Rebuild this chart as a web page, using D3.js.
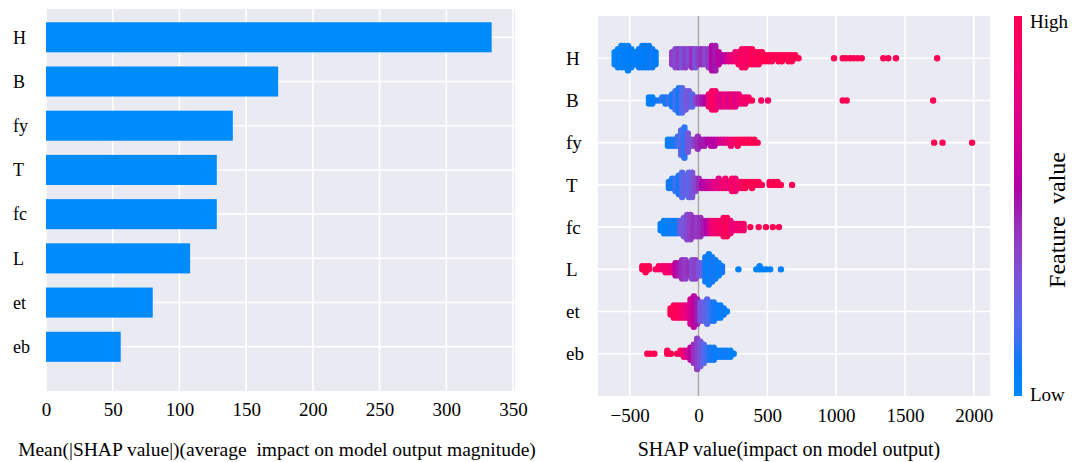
<!DOCTYPE html>
<html>
<head>
<meta charset="utf-8">
<script src="https://cdn.jsdelivr.net/npm/d3@7/dist/d3.min.js"></script>
<style>
  body { margin: 0; background: #fff; }
  svg text { font-family: "Liberation Serif", "DejaVu Serif", serif !important; fill: #000; }
</style>
</head>
<body>
<script>
// features, top to bottom
var features = ["H", "B", "fy", "T", "fc", "L", "et", "eb"];
// mean(|SHAP|) per feature
var meanShap = [334, 174, 140, 128, 128, 108, 80, 56];
var barTicks = [0, 50, 100, 150, 200, 250, 300, 350];
var shapTicks = [-500, 0, 500, 1000, 1500, 2000];

// beeswarm:
// [shap value, dots stacked in that column, feature value 0..1]
var swarmH = [
  [-609,5,0.03],[-585,7,0.05],[-560,8,0.04],[-536,8,0.06],[-512,9,0.05],[-488,7,0.07],
  [-457,5,0.06],[-432,7,0.08],[-408,8,0.07],[-384,8,0.09],[-360,8,0.08],[-336,7,0.1],[-312,5,0.09],
  [-191,5,0.4],[-167,7,0.35],[-143,7,0.42],[-119,7,0.3],[-94,7,0.4],[-70,6,0.33],[-46,7,0.45],
  [-22,7,0.3],[2,6,0.4],[26,6,0.45],[50,6,0.35],[75,7,0.42],[99,9,0.55],[123,9,0.5],[147,5,0.6],
  [171,3,0.55],[195,3,0.62],[220,3,0.75],[244,3,0.8],[268,4,0.85],
  [292,5,0.9],[316,7,0.95],[340,7,0.93],[364,6,0.9],[389,6,1],[413,5,0.95],[437,5,0.97],[461,4,1],[485,3,1],
  [509,3,1],[533,3,0.98],[558,2,1],[582,3,1],[606,3,1],[630,2,1],[654,3,1],[678,3,1],[703,2,1],[727,1,1],
  [985,1,1],[1048,1,1],[1072,1,1],[1100,1,1],[1126,1,1],[1155,1,1],[1186,1,1],
  [1343,1,1],[1379,1,1],[1435,1,1],[1734,1,1]
];
var swarmB = [
  [-360,3,0.05],[-336,3,0.08],[-312,1,0.1],[-288,1,0.1],[-263,2,0.12],[-239,3,0.1],[-215,3,0.15],
  [-191,5,0.1],[-167,7,0.15],[-143,9,0.1],[-119,9,0.2],[-94,7,0.25],[-70,6,0.3],[-46,5,0.2],[-22,3,0.35],
  [2,3,0.45],[26,3,0.5],[50,3,0.55],
  [75,5,0.85],[99,7,0.95],[123,7,0.9],[147,5,0.8],[171,5,0.75],[195,5,0.85],[220,5,0.7],[244,5,0.9],
  [268,5,0.75],[292,4,0.8],[316,3,0.9],[340,3,0.85],[364,2,0.9],[389,1,1],
  [456,1,0.95],[505,1,0.9],[1048,1,1],[1077,1,1],[1705,1,1]
];
var swarmFy = [
  [-222,3,0.05],[-198,3,0.1],[-174,3,0.1],[-150,4,0.15],[-126,9,0.2],[-102,11,0.12],[-77,7,0.3],
  [-53,3,0.3],[-29,3,0.4],[-5,5,0.45],[19,3,0.5],[43,3,0.5],[68,2,0.55],[92,3,0.6],[116,3,0.55],
  [140,2,0.65],[164,2,0.7],[188,2,0.75],[212,2,0.8],[236,3,0.85],[261,2,0.9],[285,3,0.95],[309,2,1],
  [333,2,0.95],[357,2,1],[381,2,1],[406,2,1],[430,1,1],
  [1712,1,1],[1773,1,1],[1988,1,1]
];
var swarmT = [
  [-215,3,0.1],[-191,4,0.1],[-167,5,0.15],[-143,7,0.1],[-119,9,0.2],[-94,7,0.25],[-70,9,0.2],
  [-46,9,0.3],[-22,5,0.35],[2,4,0.45],[26,3,0.55],[50,3,0.6],[75,3,0.65],[99,3,0.7],[123,3,0.8],
  [147,4,0.75],[171,3,0.85],[195,4,0.9],[220,3,0.8],[244,5,0.95],[268,5,0.85],[292,3,0.9],[316,3,0.95],
  [340,3,1],[364,2,1],[389,3,1],[413,2,1],[437,2,1],[461,1,1],
  [517,2,1],[546,2,1],[575,2,1],[599,1,1],[680,1,1]
];
var swarmFc = [
  [-275,3,0.05],[-251,5,0.05],[-227,5,0.05],[-203,5,0.1],[-179,5,0.05],[-155,5,0.1],
  [-131,5,0.25],[-106,7,0.3],[-82,9,0.35],[-58,9,0.4],[-34,7,0.45],[-10,7,0.4],[14,7,0.45],
  [38,5,0.5],[63,5,0.55],[87,5,0.75],
  [111,5,0.9],[135,5,0.85],[159,5,0.95],[183,7,0.9],[207,7,1],[232,5,0.85],[256,3,0.8],
  [280,3,0.9],[304,3,0.85],[328,3,0.9],
  [377,1,1],[437,1,1],[490,1,1],[540,1,1],[585,1,1]
];
var swarmL = [
  [-408,2,1],[-384,3,1],[-360,2,1],[-312,1,0.95],[-288,2,0.95],[-263,2,0.9],[-239,3,0.85],
  [-215,3,0.9],[-191,3,0.8],[-167,5,0.6],[-143,5,0.5],[-119,7,0.45],[-94,7,0.4],[-70,5,0.45],
  [-46,7,0.35],[-22,7,0.4],[2,5,0.3],[26,5,0.25],
  [50,9,0.1],[75,11,0.05],[99,9,0.1],[123,7,0.1],[147,5,0.05],[171,3,0.1],
  [290,1,0.05],[420,1,0.05],[444,2,0.05],[468,1,0.05],[493,1,0.05],[521,1,0.05],[599,1,0.05]
];
var swarmEt = [
  [-203,3,1],[-179,5,0.95],[-155,5,1],[-131,5,0.9],[-106,5,0.85],[-82,5,0.8],
  [-58,9,0.7],[-34,11,0.6],[-10,9,0.5],
  [14,7,0.3],[38,7,0.25],[63,9,0.2],[87,7,0.15],[111,7,0.1],[135,5,0.1],[159,5,0.05],
  [183,3,0.1],[207,1,0.05]
];
var swarmEb = [
  [-372,1,1],[-350,1,1],[-320,1,1],[-227,2,1],[-200,1,1],[-155,1,1],[-131,2,0.95],
  [-106,3,0.85],[-82,3,0.7],[-58,5,0.6],[-34,7,0.45],[-10,11,0.4],[14,9,0.3],[38,7,0.2],
  [63,5,0.15],[87,5,0.1],[111,5,0.1],[135,3,0.05],[159,3,0.1],[183,3,0.05],[207,3,0.1],
  [232,3,0.05],[256,1,0.05]
];
var swarms = [swarmH, swarmB, swarmFy, swarmT, swarmFc, swarmL, swarmEt, swarmEb];

var svgWidth = 1083;
var svgHeight = 462;
var bg = "#eaeaf2";
var barBlue = "#008bfb";
var serif = "'Liberation Serif', 'DejaVu Serif', serif";

var svg = d3.select("body")
  .append("svg")
  .attr("width", svgWidth)
  .attr("height", svgHeight);

// shap's red_blue colour map (blue -> purple -> red in LCh)
function shapColor(t) {
  var h = 266.93 + t * (380.32 - 266.93);
  var c = 70 + t * 20;
  var l = t < 0.5 ? 54 - t * 28 : 40 + (t - 0.5) * 28;
  return d3.hcl(h, c, l).formatHex();
}

// ---------------- left: bar chart ----------------
var barMax = 351.5;
var barX = d3.scaleLinear().domain([0, barMax]).range([46, 515]);
var barY = d3.scaleLinear().domain([-0.64, 8]).range([9, 391]);
var barStep = barY(1) - barY(0);

var left = svg.append("g");

left.append("rect")
  .attr("x", barX(0)).attr("y", barY(-0.64))
  .attr("width", barX(barMax) - barX(0))
  .attr("height", barY(8) - barY(-0.64))
  .attr("fill", bg);

// grid
left.selectAll(".vgrid")
  .data(barTicks)
  .enter()
  .append("line")
  .attr("x1", d => barX(d)).attr("x2", d => barX(d))
  .attr("y1", barY(-0.64)).attr("y2", barY(8))
  .attr("stroke", "#fff").attr("stroke-width", 1.6);

left.selectAll(".hgrid")
  .data(features)
  .enter()
  .append("line")
  .attr("x1", barX(0)).attr("x2", barX(barMax))
  .attr("y1", (d, i) => barY(i)).attr("y2", (d, i) => barY(i))
  .attr("stroke", "#fff").attr("stroke-width", 1.6);

// bars
left.selectAll(".bar")
  .data(meanShap)
  .enter()
  .append("rect")
  .attr("x", barX(0))
  .attr("y", (d, i) => barY(i) - barStep * 0.34)
  .attr("width", d => barX(d) - barX(0))
  .attr("height", barStep * 0.68)
  .attr("fill", barBlue);

// feature labels (left aligned like the picture)
left.selectAll(".ylab")
  .data(features)
  .enter()
  .append("text")
  .attr("x", 13)
  .attr("y", (d, i) => barY(i))
  .attr("dy", "0.35em")
  .style("font-family", serif)
  .style("font-size", "18px")
  .text(d => d);

var barAxis = left.append("g")
  .attr("transform", `translate(0, ${barY(8)})`)
  .call(d3.axisBottom(barX).tickValues(barTicks).tickSize(0).tickPadding(12));
barAxis.select(".domain").remove();
barAxis.selectAll("text")
  .style("font-family", serif)
  .style("font-size", "19px")
  .attr("fill", "#000");

left.append("text")
  .attr("x", 277)
  .attr("y", 456)
  .attr("text-anchor", "middle")
  .style("font-family", serif)
  .style("font-size", "19.5px")
  .style("white-space", "pre")
  .text("Mean(|SHAP value|)(average  impact on model output magnitude)");

// ---------------- right: beeswarm ----------------
var sx = d3.scaleLinear().domain([-730, 2118]).range([598, 990]);
var sy = d3.scaleLinear().domain([-1, 8]).range([396, 16]);
var rowStep = sy(0) - sy(1);

var right = svg.append("g");

right.append("rect")
  .attr("x", sx(-730)).attr("y", sy(8))
  .attr("width", sx(2118) - sx(-730))
  .attr("height", sy(-1) - sy(8))
  .attr("fill", bg);

right.selectAll(".vgrid")
  .data(shapTicks)
  .enter()
  .append("line")
  .attr("x1", d => sx(d)).attr("x2", d => sx(d))
  .attr("y1", sy(8)).attr("y2", sy(-1))
  .attr("stroke", "#fff").attr("stroke-width", 1.6);

right.selectAll(".hgrid")
  .data(features)
  .enter()
  .append("line")
  .attr("x1", sx(-730)).attr("x2", sx(2118))
  .attr("y1", (d, i) => sy(7 - i)).attr("y2", (d, i) => sy(7 - i))
  .attr("stroke", "#fff").attr("stroke-width", 1.6);

// zero line
right.append("line")
  .attr("x1", sx(0)).attr("x2", sx(0))
  .attr("y1", sy(8)).attr("y2", sy(-1))
  .attr("stroke", "#aaaaaa").attr("stroke-width", 1.6);

// stack each column like shap's beeswarm: 0, +1, -1, +2, -2 ...
var layerGap = rowStep * 0.072;
var dots = [];
swarms.forEach(function (cols, row) {
  cols.forEach(function (c) {
    for (var k = 0; k < c[1]; k++) {
      var layer = Math.ceil(k / 2) * (k % 2 ? 1 : -1);
      dots.push({ row: row, shap: c[0], layer: layer, value: c[2] });
    }
  });
});

right.selectAll(".dot")
  .data(dots)
  .enter()
  .append("circle")
  .attr("cx", d => sx(d.shap))
  .attr("cy", d => sy(7 - d.row) - d.layer * layerGap)
  .attr("r", 3.2)
  .attr("fill", d => shapColor(d.value));

right.selectAll(".ylab")
  .data(features)
  .enter()
  .append("text")
  .attr("x", 566)
  .attr("y", (d, i) => sy(7 - i))
  .attr("dy", "0.35em")
  .style("font-family", serif)
  .style("font-size", "19px")
  .text(d => d);

var shapAxis = right.append("g")
  .attr("transform", `translate(0, ${sy(-1)})`)
  .call(d3.axisBottom(sx).tickValues(shapTicks).tickFormat(d3.format("d")).tickSize(0).tickPadding(12.5));
shapAxis.select(".domain").remove();
shapAxis.selectAll("text")
  .style("font-family", serif)
  .style("font-size", "19px")
  .attr("fill", "#000");

right.append("text")
  .attr("x", 789)
  .attr("y", 456)
  .attr("text-anchor", "middle")
  .style("font-family", serif)
  .style("font-size", "20px")
  .text("SHAP value(impact on model output)");

// colour bar
var defs = svg.append("defs");
var grad = defs.append("linearGradient")
  .attr("id", "cbar")
  .attr("x1", 0).attr("y1", 1).attr("x2", 0).attr("y2", 0);
grad.selectAll("stop")
  .data(d3.range(0, 1.0001, 0.05))
  .enter()
  .append("stop")
  .attr("offset", d => d)
  .attr("stop-color", d => shapColor(d));

svg.append("rect")
  .attr("x", 1014).attr("y", sy(8))
  .attr("width", 8).attr("height", sy(-1) - sy(8))
  .attr("fill", "url(#cbar)");

svg.append("text")
  .attr("x", 1030).attr("y", 21)
  .attr("dy", "0.35em")
  .style("font-family", serif)
  .style("font-size", "19px")
  .text("High");

svg.append("text")
  .attr("x", 1030).attr("y", 394)
  .attr("dy", "0.35em")
  .style("font-family", serif)
  .style("font-size", "19px")
  .text("Low");

svg.append("text")
  .attr("transform", "translate(1057, 220) rotate(-90)")
  .attr("text-anchor", "middle")
  .attr("dy", "0.35em")
  .style("font-family", serif)
  .style("font-size", "24px")
  .style("white-space", "pre")
  .text("Feature  value");
</script>
</body>
</html>
